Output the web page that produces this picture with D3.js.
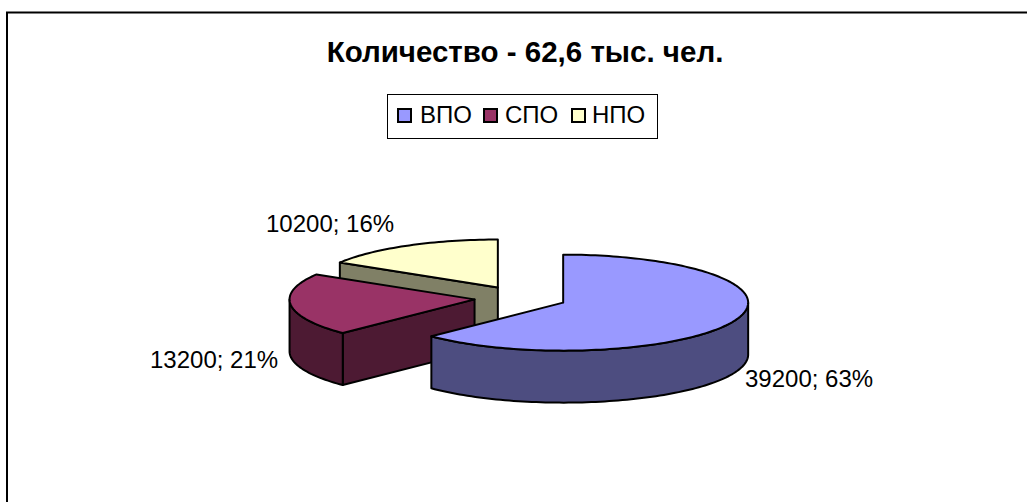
<!DOCTYPE html>
<html>
<head>
    <meta charset="utf-8">
    <title>Количество</title>
    <script src="https://d3js.org/d3.v7.min.js"></script>
    <style>
        html, body { margin: 0; padding: 0; background: #fff; }
        svg { display: block; }
        text { font-family: "Liberation Sans", Arial, sans-serif; fill: #000; }
    </style>
</head>
<body>
    <svg width="1027" height="502"></svg>
    <script>
        var categories = ["ВПО", "СПО", "НПО"];
        var values = [39200, 13200, 10200];
        var percents = [63, 21, 16];
        var topColors = ["#9999ff", "#993366", "#ffffcc"];
        var wallColors = ["#4d4d80", "#4d1a33", "#808066"];
        var titleText = "Количество - 62,6 тыс. чел.";

        var cx = 520.5, cy = 298, rx = 185, ry = 48, depth = 52, explode = 0.25;

        // unit circle -> flattened pie
        var x = d3.scaleLinear().domain([-1, 1]).range([cx - rx, cx + rx]);
        var y = d3.scaleLinear().domain([-1, 1]).range([cy + ry, cy - ry]);

        var svg = d3.select("svg");

        // frame: only top and left edges show
        svg.append("path")
            .attr("d", "M7,502V12.5H1027")
            .attr("fill", "none")
            .attr("stroke", "#000")
            .attr("stroke-width", 2);

        svg.append("text")
            .attr("x", 525)
            .attr("y", 62)
            .attr("text-anchor", "middle")
            .attr("font-size", 29.5)
            .attr("font-weight", "bold")
            .text(titleText);

        // legend
        var legend = svg.append("g");
        legend.append("rect")
            .attr("x", 387.5).attr("y", 94.5)
            .attr("width", 270).attr("height", 44)
            .attr("fill", "#fff").attr("stroke", "#000");
        var legendX = [398, 484, 572];
        var legendTextX = [420, 505, 592];
        categories.forEach(function(c, i) {
            legend.append("rect")
                .attr("x", legendX[i]).attr("y", 109)
                .attr("width", 13).attr("height", 13)
                .attr("fill", topColors[i])
                .attr("stroke", "#000").attr("stroke-width", 2);
            legend.append("text")
                .attr("x", legendTextX[i]).attr("y", 123)
                .attr("font-size", 24)
                .text(c);
        });

        var pie = d3.pie().sort(null).value(function(d) { return d; });
        var slices = pie(values);

        var line = d3.line();

        function pointAt(a, ox, oy) {
            return [x(ox + Math.sin(a)), y(oy + Math.cos(a))];
        }

        function arcPoints(a0, a1, ox, oy) {
            var n = Math.max(2, Math.ceil((a1 - a0) * 40));
            return d3.range(n + 1).map(function(i) {
                return pointAt(a0 + (a1 - a0) * i / n, ox, oy);
            });
        }

        function drawShape(points, fill) {
            svg.append("path")
                .attr("d", line(points) + "Z")
                .attr("fill", fill)
                .attr("stroke", "#000")
                .attr("stroke-width", 2)
                .attr("stroke-linejoin", "round");
        }

        function shift(points) {
            return points.map(function(p) { return [p[0], p[1] + depth]; });
        }

        // back to front so the nearer slices cover the others
        [2, 1, 0].forEach(function(i) {
            var s = slices[i];
            var mid = (s.startAngle + s.endAngle) / 2;
            var ox = explode * Math.sin(mid), oy = explode * Math.cos(mid);
            var apex = [x(ox), y(oy)];

            // cut faces looking towards the viewer
            if (i === 1 || i === 2) {
                var e = pointAt(s.startAngle, ox, oy);
                drawShape([apex, e].concat(shift([e, apex])), wallColors[i]);
            }

            // outer wall, front half of the ellipse only
            var from = Math.max(s.startAngle, Math.PI / 2);
            var to = Math.min(s.endAngle, Math.PI * 3 / 2);
            if (to > from) {
                var rim = arcPoints(from, to, ox, oy);
                drawShape(rim.concat(shift(rim).reverse()), wallColors[i]);
            }

            drawShape([apex].concat(arcPoints(s.startAngle, s.endAngle, ox, oy)), topColors[i]);
        });

        // data labels
        var labelX = [745, 150, 266];
        var labelY = [387, 368, 232];
        values.forEach(function(v, i) {
            svg.append("text")
                .attr("x", labelX[i])
                .attr("y", labelY[i])
                .attr("font-size", 24)
                .text(v + "; " + percents[i] + "%");
        });
    </script>
</body>
</html>
